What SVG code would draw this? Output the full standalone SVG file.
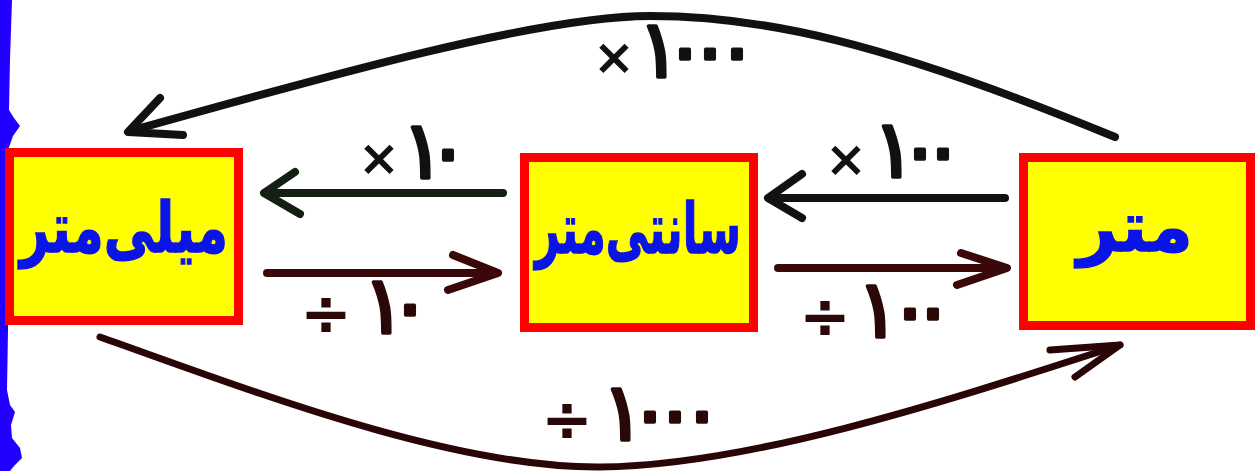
<svg xmlns="http://www.w3.org/2000/svg" width="1255" height="471" viewBox="0 0 1255 471">
<style>
.box{fill:#ffff00;stroke:#ff0000;stroke-width:9}
.name{font-family:"DejaVu Sans",sans-serif;font-weight:bold;font-size:70px;fill:#0a14e6;stroke:#0a14e6;stroke-width:1.5;text-anchor:middle}
.lbl{font-family:"DejaVu Sans",sans-serif;fill:#111111;text-anchor:middle}
.lblr{font-family:"DejaVu Sans",sans-serif;fill:#2a0808;text-anchor:middle}
.op{font-size:50px;font-weight:bold}
.dv{font-size:62px;font-weight:bold}
.dg{font-size:80px;font-weight:normal;stroke-width:3.5;stroke-linejoin:round}
.lbl .dg{stroke:#111111}
.lblr .dg{stroke:#2a0808}
.blk{fill:none;stroke:#111111;stroke-width:8;stroke-linecap:round;stroke-linejoin:round}
.grn{fill:none;stroke:#152015;stroke-width:8;stroke-linecap:round;stroke-linejoin:round}
.mar{fill:none;stroke:#3a0808;stroke-width:8;stroke-linecap:round;stroke-linejoin:round}
.mar2{fill:none;stroke:#2a0505;stroke-width:7;stroke-linecap:round;stroke-linejoin:round}
</style>
<rect width="1255" height="471" fill="#ffffff"/>
<polygon fill="#2200ff" points="0,0 12,0 10,60 9,110 14,118 20,126 13,136 8,150 8,330 7,390 10,405 15,412 11,425 12,438 20,448 22,458 14,466 10,471 0,471"/>
<g id="connectors">
<path class="blk" d="M1115,137 C880,40 760,16 650,16 C540,16 330,75 130,131"/>
<path class="blk" d="M160,98 L128,132 L183,135"/>
<path class="mar2" d="M100,337 C250,390 450,468 600,467 C750,466 950,400 1120,345"/>
<path class="mar2" d="M1050,350 L1120,345 L1075,377"/>
<path class="grn" d="M503,193 L265,193"/>
<path class="grn" d="M295,172 L264,193 L300,214"/>
<path class="mar" d="M267,273 L496,273"/>
<path class="mar" d="M453,255 L498,273 L448,290"/>
<path class="blk" d="M1005,198 L769,198"/>
<path class="blk" d="M802,174 L768,198 L802,218"/>
<path class="mar" d="M778,268 L1005,268"/>
<path class="mar" d="M961,253 L1007,268 L957,285"/>
<text class="lbl"><tspan class="op" x="614" y="74">×</tspan><tspan class="dg" x="659 685 710 737" y="77">۱۰۰۰</tspan></text>
<text class="lbl"><tspan class="op" x="379" y="175">×</tspan><tspan class="dg" x="423 448" y="178">۱۰</tspan></text>
<text class="lblr"><tspan class="dv" x="326" y="335">÷</tspan><tspan class="dg" x="384 410" y="333">۱۰</tspan></text>
<text class="lbl"><tspan class="op" x="846" y="176">×</tspan><tspan class="dg" x="894 920 943" y="177">۱۰۰</tspan></text>
<text class="lblr"><tspan class="dv" x="825" y="338">÷</tspan><tspan class="dg" x="878 910 933" y="337">۱۰۰</tspan></text>
<text class="lblr"><tspan class="dv" x="567" y="441">÷</tspan><tspan class="dg" x="623 650 675 702" y="440">۱۰۰۰</tspan></text>
</g>
<g id="millimeter">
<rect class="box" x="9.5" y="152.5" width="229" height="168"/>
<text class="name" x="124" y="252" textLength="208" lengthAdjust="spacingAndGlyphs">میلی‌متر</text>
</g>
<g id="centimeter">
<rect class="box" x="524.5" y="157.5" width="229" height="170"/>
<text class="name" x="638" y="253" textLength="206" lengthAdjust="spacingAndGlyphs">سانتی‌متر</text>
</g>
<g id="meter">
<rect class="box" x="1023.5" y="157.5" width="227" height="168"/>
<text class="name" x="1135" y="251" font-size="76">متر</text>
</g>
</svg>
